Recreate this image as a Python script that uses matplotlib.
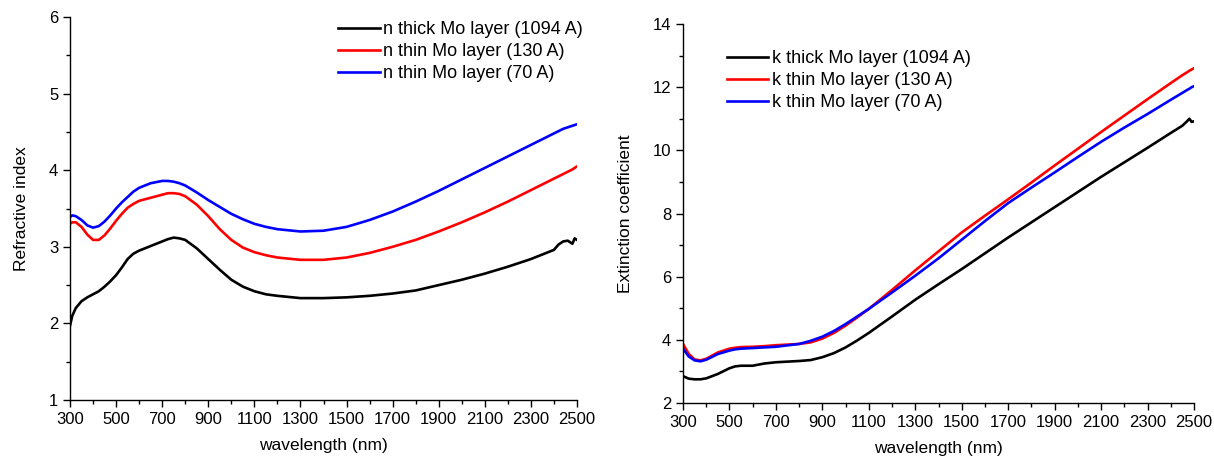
import matplotlib
matplotlib.use("Agg")
import matplotlib.pyplot as plt
from matplotlib.ticker import MultipleLocator, FixedLocator

plt.rcParams['font.family'] = ['Liberation Sans', 'DejaVu Sans']

# ---- data: refractive index n ----
wl_n = [300, 310, 325, 350, 375, 400, 425, 450, 475, 500, 525, 550, 575, 600, 650, 700, 725, 750,
        775, 800, 850, 900, 950, 1000, 1050, 1100, 1150, 1200, 1300, 1400, 1500, 1600, 1700, 1800, 1900,
        2000, 2100, 2200, 2300, 2400, 2420, 2440, 2460, 2480, 2490, 2500]
n_thick = [1.97, 2.10, 2.20, 2.29, 2.34, 2.38, 2.42, 2.48, 2.55, 2.63, 2.73, 2.84, 2.91, 2.95, 3.01,
           3.07, 3.10, 3.12, 3.11, 3.09, 2.98, 2.84, 2.70, 2.57, 2.48, 2.42, 2.38, 2.36, 2.33, 2.33,
           2.34, 2.36, 2.39, 2.43, 2.50, 2.57, 2.65, 2.74, 2.84, 2.96, 3.03, 3.07, 3.08, 3.04, 3.11, 3.09]
n_130 = [3.30, 3.32, 3.32, 3.26, 3.16, 3.09, 3.09, 3.15, 3.24, 3.34, 3.43, 3.51, 3.56, 3.60, 3.64,
         3.68, 3.70, 3.70, 3.69, 3.66, 3.55, 3.40, 3.23, 3.09, 2.99, 2.93, 2.89, 2.86, 2.83, 2.83,
         2.86, 2.92, 3.00, 3.09, 3.20, 3.32, 3.45, 3.59, 3.74, 3.89, 3.92, 3.95, 3.98, 4.01, 4.03, 4.05]
n_70 = [3.39, 3.41, 3.40, 3.35, 3.28, 3.25, 3.27, 3.33, 3.41, 3.50, 3.58, 3.65, 3.72, 3.77, 3.83,
        3.86, 3.86, 3.85, 3.83, 3.80, 3.71, 3.61, 3.52, 3.43, 3.36, 3.30, 3.26, 3.23, 3.20, 3.21,
        3.26, 3.35, 3.46, 3.59, 3.73, 3.88, 4.03, 4.18, 4.33, 4.48, 4.51, 4.54, 4.56, 4.58, 4.59, 4.60]

# ---- data: extinction coefficient k ----
wl_k = [300, 325, 350, 375, 400, 450, 500, 525, 550, 600, 650, 700, 800, 850, 900, 950, 1000,
        1050, 1100, 1200, 1300, 1400, 1500, 1600, 1700, 1800, 1900, 2000, 2100, 2200, 2300,
        2400, 2450, 2470, 2480, 2490, 2500]
k_thick = [2.85, 2.77, 2.75, 2.75, 2.78, 2.92, 3.10, 3.16, 3.18, 3.18, 3.25, 3.29, 3.33, 3.36, 3.45,
           3.58, 3.76, 3.98, 4.22, 4.74, 5.27, 5.76, 6.24, 6.74, 7.24, 7.72, 8.20, 8.68, 9.16, 9.62,
           10.08, 10.55, 10.78, 10.92, 11.00, 10.90, 10.92]
k_130 = [3.87, 3.55, 3.38, 3.35, 3.40, 3.60, 3.72, 3.75, 3.77, 3.78, 3.80, 3.83, 3.87, 3.92, 4.04,
         4.22, 4.45, 4.71, 4.98, 5.58, 6.20, 6.80, 7.40, 7.93, 8.45, 8.98, 9.52, 10.05, 10.58,
         11.10, 11.62, 12.13, 12.38, 12.47, 12.52, 12.56, 12.60]
k_70 = [3.72, 3.47, 3.35, 3.32, 3.37, 3.55, 3.66, 3.70, 3.72, 3.74, 3.76, 3.78, 3.87, 3.97, 4.10,
        4.28, 4.50, 4.74, 4.98, 5.50, 6.03, 6.58, 7.17, 7.76, 8.33, 8.82, 9.30, 9.79, 10.27,
        10.72, 11.15, 11.60, 11.82, 11.91, 11.95, 12.00, 12.03]

xticks = [300, 500, 700, 900, 1100, 1300, 1500, 1700, 1900, 2100, 2300, 2500]
labels_n = ['n thick Mo layer (1094 A)', 'n thin Mo layer (130 A)', 'n thin Mo layer (70 A)']
labels_k = ['k thick Mo layer (1094 A)', 'k thin Mo layer (130 A)', 'k thin Mo layer (70 A)']
colors = ['#000000', '#ff0000', '#0000ff']

W, H = 1214, 458
fig = plt.figure(figsize=(W / 100, H / 100), dpi=100)
ax1 = fig.add_axes([70 / W, (H - 400) / H, 507 / W, 383 / H])
ax2 = fig.add_axes([683 / W, (H - 403) / H, 511 / W, 379 / H])


def style(ax):
    for s in ['top', 'right']:
        ax.spines[s].set_visible(False)
    for s in ['left', 'bottom']:
        ax.spines[s].set_linewidth(1.0)
    ax.set_xlim(300, 2500)
    ax.set_xticks(xticks)
    ax.xaxis.set_minor_locator(FixedLocator([t + 100 for t in xticks[:-1]]))
    ax.tick_params(which='major', direction='out', length=5, width=1, labelsize=12)
    ax.tick_params(which='minor', direction='out', length=3, width=1)
    ax.set_xlabel('wavelength (nm)', fontsize=12.5, labelpad=8)


for y, c, l in zip([n_thick, n_130, n_70], colors, labels_n):
    ax1.plot(wl_n, y, color=c, lw=1.9, label=l)
style(ax1)
ax1.set_ylim(1, 6)
ax1.yaxis.set_major_locator(MultipleLocator(1))
ax1.yaxis.set_minor_locator(MultipleLocator(0.5))
ax1.set_ylabel('Refractive index', fontsize=12.5, labelpad=14)
ax1.legend(loc='upper left', bbox_to_anchor=(0.529, 0.989), frameon=False, fontsize=13,
           handlelength=2.3, handletextpad=0.2, labelspacing=0.28, borderpad=0, borderaxespad=0)

for y, c, l in zip([k_thick, k_130, k_70], colors, labels_k):
    ax2.plot(wl_k, y, color=c, lw=1.9, label=l)
style(ax2)
ax2.set_ylim(2, 14)
ax2.yaxis.set_major_locator(MultipleLocator(2))
ax2.yaxis.set_minor_locator(MultipleLocator(1))
ax2.set_ylabel('Extinction coefficient', fontsize=12.5, labelpad=14)
ax2.legend(loc='upper left', bbox_to_anchor=(0.086, 0.931), frameon=False, fontsize=13,
           handlelength=2.3, handletextpad=0.2, labelspacing=0.28, borderpad=0, borderaxespad=0)

fig.savefig('out.png', dpi=100)
